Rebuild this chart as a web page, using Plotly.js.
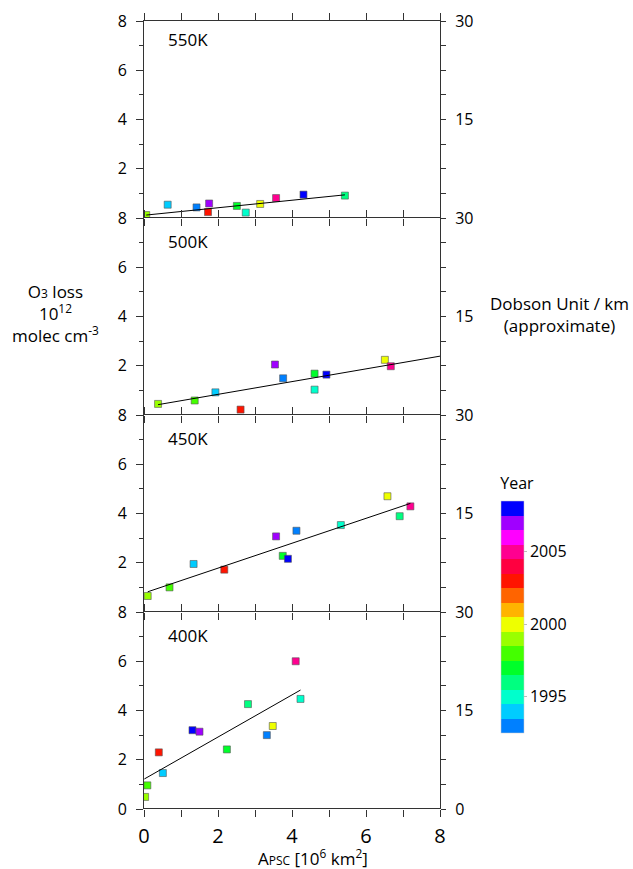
<!DOCTYPE html>
<html>
<head>
<meta charset="utf-8">
<script src="https://cdn.plot.ly/plotly-3.0.1.min.js"></script>
<style>
  html, body { margin: 0; padding: 0; background: #fff; }
  #chart { width: 633px; height: 869px; }
</style>
</head>
<body>
<div id="chart"></div>
<script>
// Year colour key: one discrete colour per winter, 1993-2008
const keyYears = [1993, 1994, 1995, 1996, 1997, 1998, 1999, 2000,
                  2001, 2002, 2003, 2004, 2005, 2006, 2007, 2008];
const keyColors = ['#0080FF', '#00CCFF', '#00FFCC', '#00FF80', '#00FF2A', '#44FF00', '#99FF00', '#EEFF00',
                   '#FFB400', '#FF6400', '#FF1400', '#FF0040', '#FF0090', '#FF00FF', '#A000FF', '#0000FF'];
const yearTicks = [1995, 2000, 2005];

// Potential-temperature levels, top to bottom
const levels = ['550K', '500K', '450K', '400K'];

// 550K
const apsc550 = [0.06, 0.64, 1.42, 1.76, 1.73, 2.51, 2.75, 3.14, 3.57, 4.31, 5.43];
const loss550 = [0.12, 0.54, 0.43, 0.59, 0.24, 0.49, 0.22, 0.57, 0.81, 0.95, 0.91];
const year550 = [1999, 1994, 1993, 2007, 2003, 1997, 1995, 2000, 2005, 2008, 1996];
const fitX550 = [0.06, 5.43];
const fitY550 = [0.12, 0.94];

// 500K
const apsc500 = [0.38, 1.37, 1.93, 2.61, 3.54, 3.76, 4.61, 4.61, 4.93, 6.51, 6.67];
const loss500 = [0.45, 0.59, 0.92, 0.22, 2.05, 1.49, 1.68, 1.03, 1.64, 2.24, 1.98];
const year500 = [1999, 1998, 1994, 2003, 2007, 1993, 1997, 1995, 2008, 2000, 2005];
const fitX500 = [0.38, 8.0];
const fitY500 = [0.42, 2.39];

// 450K
const apsc450 = [0.10, 0.69, 1.34, 2.17, 3.57, 3.75, 3.89, 4.12, 5.32, 6.58, 6.91, 7.20];
const loss450 = [0.65, 1.00, 1.95, 1.72, 3.07, 2.28, 2.16, 3.30, 3.53, 4.70, 3.89, 4.29];
const year450 = [1999, 1998, 1994, 2003, 2007, 1997, 2008, 1993, 1995, 2000, 1996, 2005];
const fitX450 = [0.10, 7.20];
const fitY450 = [0.82, 4.41];

// 400K
const apsc400 = [0.03, 0.09, 0.40, 0.51, 1.31, 1.50, 2.24, 2.81, 3.32, 3.48, 4.10, 4.23];
const loss400 = [0.49, 0.96, 2.30, 1.46, 3.20, 3.14, 2.42, 4.26, 3.00, 3.37, 6.00, 4.47];
const year400 = [1999, 1998, 2003, 1994, 2008, 2007, 1997, 1996, 1993, 2000, 2005, 1995];
const fitX400 = [0.01, 4.23];
const fitY400 = [1.22, 4.83];

// Axis ticks
const xTickVals = [0, 1, 2, 3, 4, 5, 6, 7, 8];
const xTickText = ['0', '', '2', '', '4', '', '6', '', '8'];
const lossTickVals = [0, 2, 4, 6, 8];
const lossTickTextTop = ['', '2', '4', '6', '8'];
const lossTickTextBottom = ['0', '2', '4', '6', '8'];
const duTickVals = [0, 1, 2, 3, 4, 5, 6, 7, 8];
const duTickTextTop = ['', '', '', '', '15', '', '', '', '30'];
const duTickTextBottom = ['0', '', '', '', '15', '', '', '', '30'];

const panels = [
  { x: apsc550, y: loss550, yr: year550, fx: fitX550, fy: fitY550 },
  { x: apsc500, y: loss500, yr: year500, fx: fitX500, fy: fitY500 },
  { x: apsc450, y: loss450, yr: year450, fx: fitX450, fy: fitY450 },
  { x: apsc400, y: loss400, yr: year400, fx: fitX400, fy: fitY400 }
];

// Plot-area geometry in pixels
const W = 633, H = 869;
const M = { l: 144, r: 193, t: 21, b: 60 };
const plotW = W - M.l - M.r, plotH = H - M.t - M.b;
const px2x = px => (px - M.l) / plotW;
const py2y = py => (H - M.b - py) / plotH;

// Discrete colour scale spanning half-year edges
const cmin = keyYears[0] - 0.5, cmax = keyYears[keyYears.length - 1] + 0.5;
const colorscale = [];
keyColors.forEach((c, i) => {
  colorscale.push([i / keyColors.length, c]);
  colorscale.push([(i + 1) / keyColors.length, c]);
});

const FONT = 'Open Sans, DejaVu Sans, sans-serif';
const AX = '#333';

const data = [];
const layout = {
  width: W, height: H,
  margin: M,
  paper_bgcolor: '#fff', plot_bgcolor: '#fff',
  showlegend: false,
  font: { family: FONT, color: '#000' },
  annotations: [],
  shapes: []
};

panels.forEach((p, i) => {
  const n = i + 1;
  const xa = 'x' + n, ya = 'y' + n, yr = 'y' + (n + 4);
  const bottom = i === panels.length - 1;
  const d0 = (panels.length - 1 - i) / panels.length;
  const d1 = (panels.length - i) / panels.length;

  // regression line (drawn against the right-hand axis, which shares the same 0-8 range)
  data.push({
    type: 'scatter', mode: 'lines', x: p.fx, y: p.fy,
    xaxis: xa, yaxis: yr,
    line: { color: '#000', width: 1 }, hoverinfo: 'skip'
  });

  // yearly points
  const marker = {
    symbol: 'square', size: 7,
    color: p.yr, colorscale: colorscale, cmin: cmin, cmax: cmax,
    line: { color: '#555', width: 0.6 },
    showscale: i === 0
  };
  if (i === 0) {
    marker.colorbar = {
      x: px2x(500.5), xanchor: 'left', xpad: 0,
      y: py2y(603.4), yanchor: 'middle', ypad: 0,
      len: 259, lenmode: 'pixels',
      thickness: 23, thicknessmode: 'pixels',
      outlinewidth: 0.5, outlinecolor: '#ccc',
      tickmode: 'array', tickvals: yearTicks,
      ticks: 'outside', ticklen: 3, tickcolor: '#bbb',
      tickfont: { size: 16, family: FONT, color: '#000' },
      title: { text: 'Year', side: 'top', font: { size: 16, family: FONT, color: '#000' } }
    };
  }
  data.push({
    type: 'scatter', mode: 'markers', x: p.x, y: p.y,
    xaxis: xa, yaxis: ya, marker: marker
  });

  // x axis: ticks on both edges of every panel; the horizontal frame lines are shapes below
  layout['xaxis' + n] = {
    domain: [0, 1], anchor: ya, range: [0, 8],
    tickmode: 'array', tickvals: xTickVals,
    ticktext: bottom ? xTickText : xTickVals.map(() => ''),
    ticks: 'outside', ticklen: 7, tickwidth: 1, tickcolor: AX,
    showline: false, mirror: 'ticks',
    showgrid: false, zeroline: false, ticklabelstandoff: 2,
    tickfont: { size: 20, family: FONT, color: '#000' },
    fixedrange: true
  };
  layout['yaxis' + n] = {
    domain: [d0, d1], anchor: xa, range: [0, 8],
    tickmode: 'array', tickvals: lossTickVals,
    ticktext: bottom ? lossTickTextBottom : lossTickTextTop,
    ticks: 'outside', ticklen: 7, tickwidth: 1, tickcolor: AX,
    minor: { tickmode: 'array', tickvals: [1, 3, 5, 7], ticks: 'outside', ticklen: 4, tickcolor: AX, showgrid: false },
    showline: true, linecolor: AX, linewidth: 1,
    showgrid: false, zeroline: false, ticklabelstandoff: 6,
    tickfont: { size: 16, family: FONT, color: '#000' },
    fixedrange: true
  };
  layout['yaxis' + (n + 4)] = {
    overlaying: ya, anchor: xa, side: 'right', range: [0, 8],
    tickmode: 'array', tickvals: duTickVals,
    ticktext: bottom ? duTickTextBottom : duTickTextTop,
    ticks: 'outside', ticklen: 5, tickwidth: 1, tickcolor: AX,
    showline: true, linecolor: AX, linewidth: 1,
    showgrid: false, zeroline: false, ticklabelstandoff: 6,
    tickfont: { size: 16, family: FONT, color: '#000' },
    fixedrange: true
  };

  // level label inside each panel
  layout.annotations.push({
    xref: xa, yref: ya, x: 0.59, y: i === 0 ? 7.23 : 7.05,
    xanchor: 'left', yanchor: 'middle', showarrow: false,
    text: levels[i], font: { size: 17, family: FONT, color: '#000' }
  });
});

// single-pixel horizontal frame lines: top edge, panel boundaries, bottom edge
for (let k = 0; k <= panels.length; k++) {
  const row = M.t + k * plotH / panels.length - 0.5;
  layout.shapes.push({
    type: 'line', xref: 'paper', yref: 'paper',
    x0: px2x(M.l - 1), x1: px2x(M.l + plotW + 1),
    y0: py2y(row), y1: py2y(row),
    line: { color: AX, width: 1 }
  });
}

// axis titles
layout.annotations.push({
  xref: 'paper', yref: 'paper', x: px2x(55), y: py2y(313),
  xanchor: 'center', yanchor: 'middle', showarrow: false, align: 'center',
  text: 'O<span style="font-size:12px">3</span> loss<br>10<sup>12</sup><br>molec cm<sup>-3</sup>',
  font: { size: 17, family: FONT, color: '#000' }
});
layout.annotations.push({
  xref: 'paper', yref: 'paper', x: px2x(559), y: py2y(314),
  xanchor: 'center', yanchor: 'middle', showarrow: false, align: 'center',
  text: 'Dobson Unit / km<br>(approximate)',
  font: { size: 17, family: FONT, color: '#000' }
});
layout.annotations.push({
  xref: 'paper', yref: 'paper', x: px2x(313), y: py2y(857),
  xanchor: 'center', yanchor: 'middle', showarrow: false,
  text: 'A<span style="font-size:12px">PSC</span> [10<sup>6</sup> km<sup>2</sup>]',
  font: { size: 17, family: FONT, color: '#000' }
});

Plotly.newPlot('chart', data, layout, { displayModeBar: false, staticPlot: true });
</script>
</body>
</html>
